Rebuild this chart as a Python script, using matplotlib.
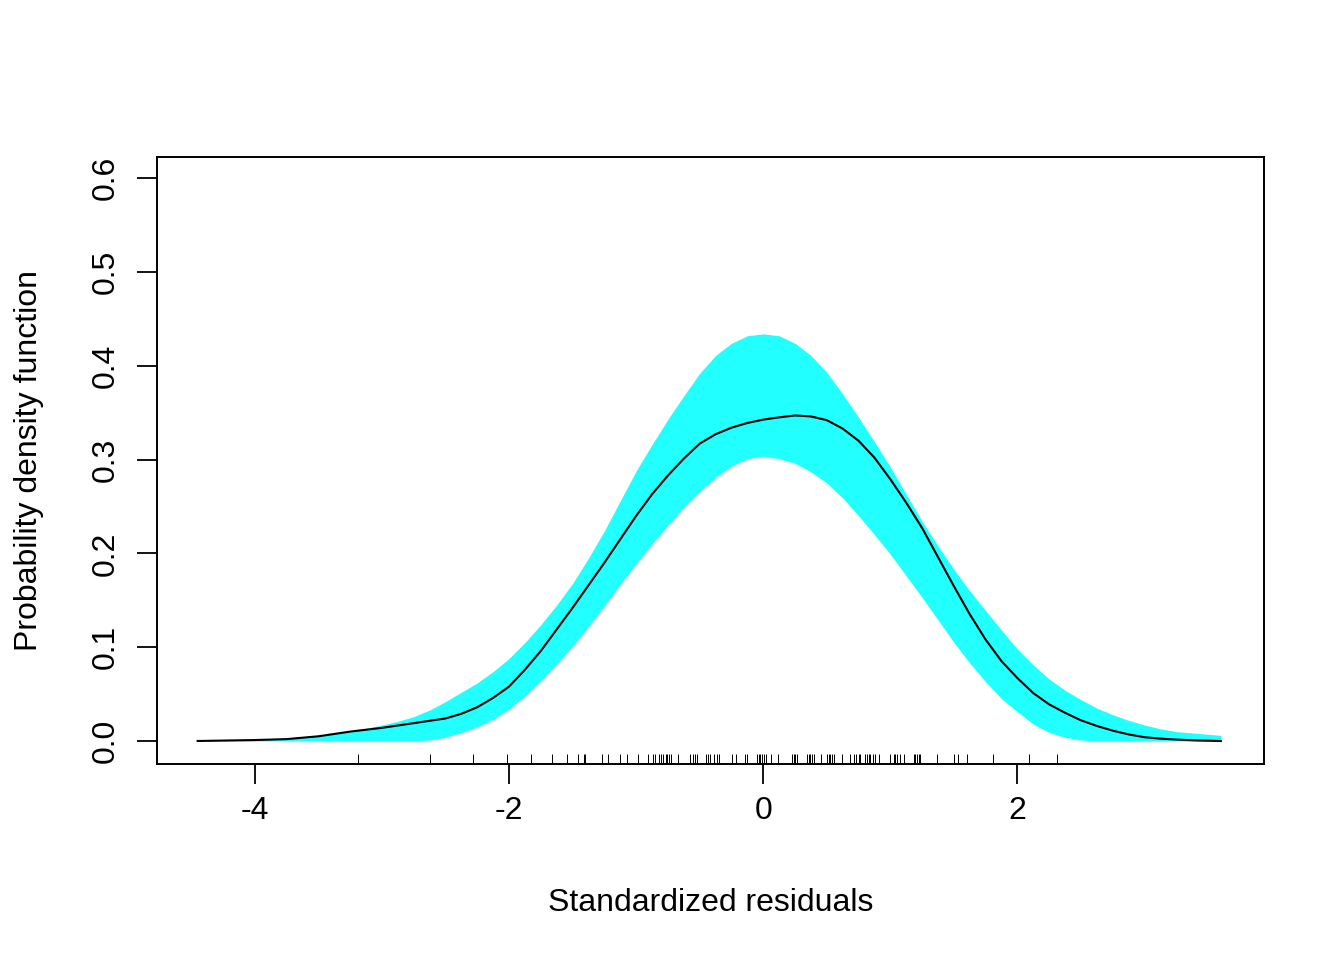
import numpy as np
import matplotlib
matplotlib.use("Agg")
import matplotlib.pyplot as plt


# ---------------------------------------------------
# Data
# ---------------------------------------------------

grid_x = [-4.45, -4.225, -4.0, -3.875, -3.75, -3.625, -3.5, -3.375, -3.25, -3.125,
          -3.0, -2.875, -2.75, -2.625, -2.5, -2.375, -2.25, -2.125, -2.0, -1.875,
          -1.75, -1.625, -1.5, -1.375, -1.25, -1.125, -1.0, -0.875, -0.75, -0.625,
          -0.5, -0.375, -0.25, -0.125, 0.0, 0.125, 0.25, 0.375, 0.5, 0.625,
          0.75, 0.875, 1.0, 1.125, 1.25, 1.375, 1.5, 1.625, 1.75, 1.875,
          2.0, 2.125, 2.25, 2.375, 2.5, 2.625, 2.75, 2.875, 3.0, 3.125,
          3.25, 3.425, 3.6]

band_upper = [0.001, 0.0015, 0.002, 0.0025, 0.003, 0.0045, 0.006, 0.008, 0.011, 0.0135,
              0.017, 0.021, 0.026, 0.033, 0.042, 0.052, 0.062, 0.074, 0.088, 0.105,
              0.124, 0.145, 0.168, 0.195, 0.224, 0.256, 0.288, 0.316, 0.343, 0.368,
              0.392, 0.411, 0.424, 0.432, 0.434, 0.432, 0.424, 0.411, 0.393, 0.370,
              0.345, 0.319, 0.292, 0.263, 0.234, 0.208, 0.183, 0.160, 0.139, 0.118,
              0.098, 0.081, 0.066, 0.054, 0.044, 0.035, 0.028, 0.022, 0.017, 0.013,
              0.010, 0.008, 0.006]

band_lower = [0.0, 0.0, 0.0, 0.0, 0.0, 0.0, 0.0, 0.0, 0.0, 0.0,
              0.0, 0.0, 0.0, 0.001, 0.004, 0.009, 0.015, 0.023, 0.034, 0.048,
              0.064, 0.082, 0.101, 0.122, 0.144, 0.167, 0.189, 0.210, 0.230, 0.249,
              0.266, 0.281, 0.293, 0.301, 0.3035, 0.301, 0.296, 0.287, 0.275, 0.259,
              0.240, 0.220, 0.199, 0.176, 0.153, 0.129, 0.105, 0.083, 0.063, 0.045,
              0.031, 0.018, 0.009, 0.004, 0.001, 0.0, 0.0, 0.0, 0.0, 0.0,
              0.0, 0.0, 0.0]

density = [0.0, 0.0005, 0.001, 0.0015, 0.002, 0.0035, 0.005, 0.0075, 0.010, 0.012,
           0.014, 0.0165, 0.019, 0.0215, 0.024, 0.029, 0.036, 0.046, 0.058, 0.076,
           0.096, 0.119, 0.142, 0.166, 0.190, 0.215, 0.240, 0.263, 0.283, 0.301,
           0.317, 0.327, 0.334, 0.339, 0.3426, 0.345, 0.347, 0.346, 0.342, 0.333,
           0.320, 0.302, 0.279, 0.254, 0.227, 0.196, 0.165, 0.135, 0.108, 0.085,
           0.067, 0.051, 0.039, 0.030, 0.022, 0.016, 0.011, 0.007, 0.004, 0.0025,
           0.0015, 0.0005, 0.0]

residuals = [-3.187, -2.625, -2.287, -2.020, -1.824, -1.664, -1.546, -1.459, -1.407, -1.402,
             -1.270, -1.218, -1.126, -1.073, -0.982, -0.903, -0.870, -0.850, -0.824, -0.806,
             -0.785, -0.764, -0.754, -0.738, -0.727, -0.667, -0.580, -0.549, -0.535, -0.522,
             -0.449, -0.431, -0.417, -0.391, -0.365, -0.352, -0.246, -0.213, -0.142, -0.124,
             -0.050, -0.037, -0.024, -0.010, 0.008, 0.021, 0.061, 0.113, 0.226, 0.239,
             0.252, 0.265, 0.344, 0.357, 0.370, 0.383, 0.396, 0.454, 0.502, 0.514,
             0.528, 0.541, 0.554, 0.620, 0.685, 0.711, 0.732, 0.750, 0.764, 0.803,
             0.817, 0.829, 0.843, 0.864, 0.882, 0.908, 0.994, 1.026, 1.039, 1.053,
             1.079, 1.105, 1.183, 1.197, 1.210, 1.223, 1.236, 1.368, 1.498, 1.530,
             1.604, 1.808, 2.088, 2.309]

x_ticks = [-4, -2, 0, 2]
y_ticks = [0.0, 0.1, 0.2, 0.3, 0.4, 0.5, 0.6]


# ---------------------------------------------------
# Style
# ---------------------------------------------------

plt.rcParams["font.family"] = ["Liberation Sans", "DejaVu Sans"]
plt.rcParams["font.size"] = 23
plt.rcParams["axes.unicode_minus"] = False


# ---------------------------------------------------
# Plot
# ---------------------------------------------------

fig = plt.figure(figsize=(13.44, 9.6), dpi=100)
ax = fig.add_axes([0.1168, 0.2042, 0.8237, 0.6323])

ax.fill_between(grid_x, band_lower, band_upper, color="#22ffff", linewidth=0)
ax.plot(grid_x, density, color="black", linewidth=1.5)

# rug of residuals along the bottom
ax.vlines(residuals, 0, 0.017, transform=ax.get_xaxis_transform(),
          color="black", linewidth=0.7)

ax.set_xlim(-4.77, 3.94)
ax.set_ylim(-0.0245, 0.6226)

ax.set_xticks(x_ticks)
ax.set_xticklabels([str(v) for v in x_ticks])
ax.set_yticks(y_ticks)
ax.set_yticklabels([f"{v:.1f}" for v in y_ticks], rotation=90, va="center")

ax.tick_params(axis="both", length=14.4, width=1.3, color="black")
ax.tick_params(axis="x", pad=9)
ax.tick_params(axis="y", pad=12)

for side in ax.spines.values():
    side.set_linewidth(1.4)

ax.set_xlabel("Standardized residuals", labelpad=44)
ax.set_ylabel("Probability density function", labelpad=33)

fig.savefig("out.png", dpi=100)
